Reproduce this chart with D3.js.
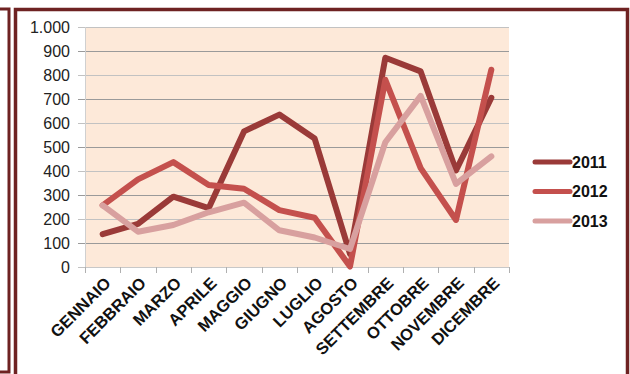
<!DOCTYPE html>
<html>
<head>
<meta charset="utf-8">
<script src="https://cdn.jsdelivr.net/npm/d3@7"></script>
<style>
  body { margin: 0; background: #fff; }
  svg { display: block; font-family: "Liberation Sans", Arial, sans-serif; }
</style>
</head>
<body>
<div id="chart"></div>
<script>
// 1: DATA
const months = ["GENNAIO", "FEBBRAIO", "MARZO", "APRILE", "MAGGIO", "GIUGNO",
  "LUGLIO", "AGOSTO", "SETTEMBRE", "OTTOBRE", "NOVEMBRE", "DICEMBRE"];
const years = ["2011", "2012", "2013"];
const values2011 = [137, 180, 293, 245, 565, 635, 535, 55, 872, 815, 402, 705];
const values2012 = [257, 365, 437, 342, 326, 237, 205, 2, 780, 412, 196, 822];
const values2013 = [257, 147, 175, 228, 268, 153, 123, 75, 520, 713, 346, 461];
const yTicks = [0, 100, 200, 300, 400, 500, 600, 700, 800, 900, 1000];

const seriesColors = ["#9a3a38", "#c4504d", "#d8a09f"];
const series = [values2011, values2012, values2013];

// 2: SIZES
const W = 630, H = 374;
const plot = { left: 85, right: 509, top: 27, bottom: 267 };

const svg = d3.select("#chart").append("svg")
  .attr("width", W)
  .attr("height", H);

// frame lines around the chart (document borders)
const frameColor = "#6e2222";
svg.append("path")
  .attr("d", "M0,9 H9 V372 H0")
  .attr("fill", "none")
  .attr("stroke", frameColor)
  .attr("stroke-width", 3);
svg.append("path")
  .attr("d", `M15.5,380 V9.5 H627.5 V380`)
  .attr("fill", "none")
  .attr("stroke", frameColor)
  .attr("stroke-width", 3.5);

// 3: SCALES
const x = d3.scaleBand()
  .domain(months)
  .range([plot.left, plot.right]);

const y = d3.scaleLinear()
  .domain([0, 1000])
  .range([plot.bottom, plot.top]);

// plot background
svg.append("rect")
  .attr("x", plot.left)
  .attr("y", plot.top)
  .attr("width", plot.right - plot.left)
  .attr("height", plot.bottom - plot.top)
  .attr("fill", "#fde9d9");

// gridlines
svg.append("g")
  .selectAll("line")
  .data(yTicks)
  .join("line")
  .attr("x1", plot.left - 7)
  .attr("x2", plot.right)
  .attr("y1", d => y(d) + 0.5)
  .attr("y2", d => y(d) + 0.5)
  .attr("stroke", (d, i) => i % 2 ? "#9a9a9a" : "#c2c2c2")
  .attr("stroke-width", 1);

// left axis line
svg.append("line")
  .attr("x1", plot.left + 0.5).attr("x2", plot.left + 0.5)
  .attr("y1", plot.top).attr("y2", plot.bottom)
  .attr("stroke", "#d0d0d0");

// Y Axis labels
const fmt = d3.formatLocale({ decimal: ",", thousands: ".", grouping: [3], currency: ["€", ""] }).format(",d");
svg.append("g")
  .selectAll("text")
  .data(yTicks)
  .join("text")
  .attr("x", 70)
  .attr("y", d => y(d))
  .attr("dy", "0.36em")
  .attr("text-anchor", "end")
  .style("font-size", "16px")
  .attr("fill", "#222")
  .text(d => fmt(d));

// X Axis ticks
const xAxis = svg.append("g")
  .attr("transform", `translate(0,${plot.bottom})`)
  .call(d3.axisBottom(x).tickSize(0).tickFormat(""));
xAxis.select(".domain").attr("stroke", "#c8c8c8").attr("d", `M${plot.left},0.5H${plot.right}`);
svg.append("g")
  .selectAll("line")
  .data(d3.range(months.length + 1))
  .join("line")
  .attr("x1", i => Math.round(plot.left + i * x.step()) + 0.5)
  .attr("x2", i => Math.round(plot.left + i * x.step()) + 0.5)
  .attr("y1", plot.bottom)
  .attr("y2", plot.bottom + 6)
  .attr("stroke", "#b0b0b0");

// X labels rotated
svg.append("g")
  .selectAll("text")
  .data(months)
  .join("text")
  .attr("transform", d => `translate(${x(d) + x.bandwidth() / 2 + 5},${plot.bottom + 13}) rotate(-45)`)
  .attr("text-anchor", "end")
  .attr("dy", "0.35em")
  .style("font-size", "16.5px")
  .style("font-weight", "bold")
  .attr("fill", "#111")
  .text(d => d);

// 4: LINES
const line = d3.line()
  .x((d, i) => x(months[i]) + x.bandwidth() / 2)
  .y(d => y(d));

series.forEach((vals, k) => {
  svg.append("path")
    .datum(vals)
    .attr("fill", "none")
    .attr("stroke", seriesColors[k])
    .attr("stroke-width", 6)
    .attr("stroke-linejoin", "round")
    .attr("stroke-linecap", "round")
    .attr("d", line);
});

// 5: LEGEND
const legend = svg.append("g").attr("transform", "translate(535,162)");
years.forEach((yr, k) => {
  const item = legend.append("g").attr("transform", `translate(0,${k * 29.5})`);
  item.append("line")
    .attr("x1", 0)
    .attr("x2", 35)
    .attr("stroke", seriesColors[k])
    .attr("stroke-width", 5)
    .attr("stroke-linecap", "round");
  item.append("text")
    .attr("x", 37)
    .attr("dy", "0.36em")
    .style("font-size", "16px")
    .style("font-weight", "bold")
    .attr("fill", "#111")
    .text(yr);
});
</script>
</body>
</html>
